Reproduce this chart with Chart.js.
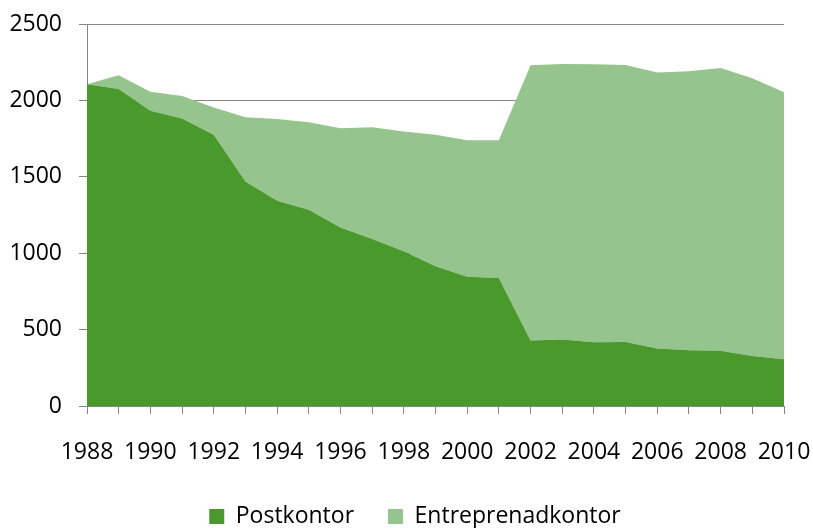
<!DOCTYPE html>
<html>
<head>
<meta charset="utf-8">
<script src="https://cdn.jsdelivr.net/npm/chart.js@4"></script>
<style>
  html, body { margin: 0; padding: 0; background: #fff; }
  #wrap { width: 813px; height: 528px; }
</style>
</head>
<body>
<div id="wrap"><canvas id="c"></canvas></div>
<script>
'use strict';

// Post offices vs. contracted offices, stacked area, 1988-2010
const YEARS = ['1988','1989','1990','1991','1992','1993','1994','1995','1996','1997','1998',
               '1999','2000','2001','2002','2003','2004','2005','2006','2007','2008','2009','2010'];
const POSTKONTOR = [2106, 2075, 1933, 1881, 1775, 1469, 1343, 1284, 1169, 1093, 1012,
                    914, 846, 838, 428, 435, 417, 419, 376, 365, 361, 328, 306];
const ENTREPRENAD = [0, 90, 123, 148, 178, 421, 536, 573, 649, 732, 784,
                     861, 894, 902, 1802, 1804, 1819, 1813, 1806, 1826, 1851, 1817, 1747];
const Y_TICKS = [0, 500, 1000, 1500, 2000, 2500];

const DARK  = '#4a992d';
const LIGHT = '#95c58c';
const AXIS  = '#868686';
const FONT  = '"Open Sans", "Noto Sans", sans-serif';

// Chart.js packs the legend against the bottom edge; move it where the reference has it
// (bottom is pushed past the canvas so the legend's clip box doesn't cut the text)
const legendShift = {
  id: 'legendShift',
  afterLayout: chart => {
    const lg = chart.legend;
    lg.top -= 5;  lg.bottom += 20;
    lg.left += 23; lg.right += 23;
  },
};

const ctx = document.getElementById('c').getContext('2d');
new Chart(ctx, {
  type: 'line',
  data: {
    labels: YEARS,
    datasets: [
      {label: 'Postkontor', data: POSTKONTOR, backgroundColor: DARK, borderColor: DARK,
       borderWidth: 0, fill: 'origin', pointRadius: 0, tension: 0},
      {label: 'Entreprenadkontor', data: ENTREPRENAD, backgroundColor: LIGHT, borderColor: LIGHT,
       borderWidth: 0, fill: '-1', pointRadius: 0, tension: 0},
    ],
  },
  plugins: [legendShift],
  options: {
    responsive: true,
    maintainAspectRatio: false,
    animation: false,
    layout: {padding: {top: 24, right: 29, left: 0, bottom: 0}},
    plugins: {
      legend: {
        position: 'bottom',
        maxHeight: 52,
        labels: {
          color: '#000', boxWidth: 15, boxHeight: 15, padding: 34,
          font: {family: FONT, size: 23},
          generateLabels: chart => chart.data.datasets.map((d, i) => ({
            text: d.label, fillStyle: d.backgroundColor, strokeStyle: d.backgroundColor,
            lineWidth: 0, datasetIndex: i, hidden: false,
          })),
        },
      },
      tooltip: {enabled: false},
    },
    scales: {
      x: {
        offset: false,
        grid: {display: true, drawOnChartArea: false, drawTicks: true, tickLength: 8,
               color: AXIS, offset: false},
        border: {display: true, color: AXIS, width: 1},
        ticks: {
          color: '#000', font: {family: FONT, size: 23}, padding: 25,
          autoSkip: false, maxRotation: 0,
          callback: (v, i) => (Number(YEARS[i]) % 2 === 0 ? YEARS[i] : ''),
        },
        afterFit: s => { s.height = 70; s.paddingLeft = 0; s.paddingRight = 0; },
      },
      y: {
        stacked: true, min: 0, max: 2500,
        afterBuildTicks: s => { s.ticks = Y_TICKS.map(v => ({value: v})); },
        grid: {color: AXIS, lineWidth: 1, tickLength: 8},
        border: {display: true, color: AXIS, width: 1},
        ticks: {color: '#000', font: {family: FONT, size: 23}, padding: 17,
                callback: v => String(v)},
        afterFit: s => { s.width = 87; s.paddingTop = 0; s.paddingBottom = 0; },
      },
    },
  },
});
</script>
</body>
</html>
